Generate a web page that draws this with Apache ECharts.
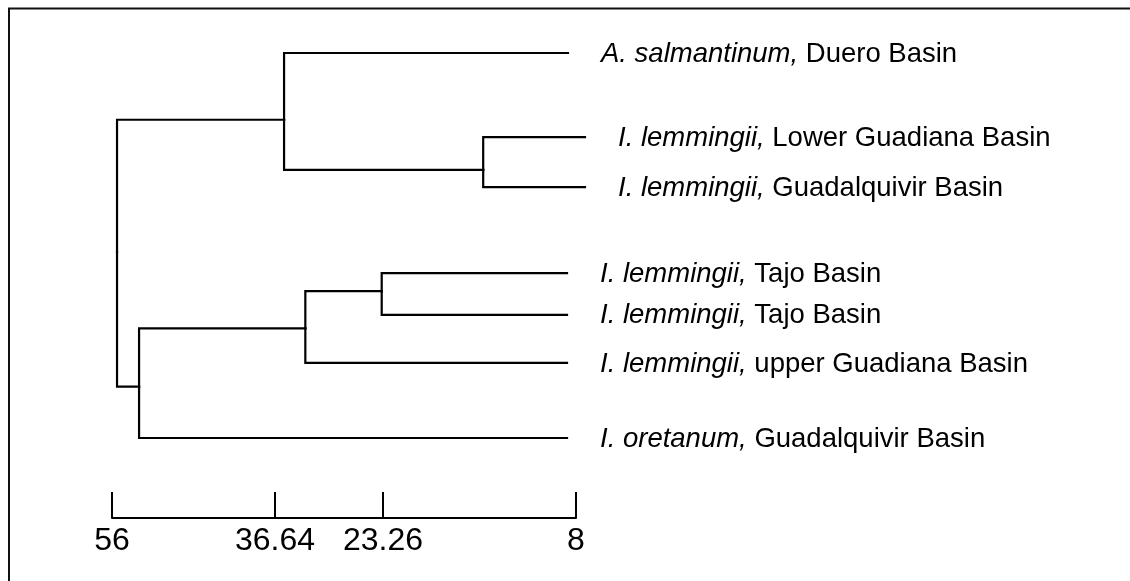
<!DOCTYPE html>
<html>
<head>
<meta charset="utf-8">
<script src="https://cdn.jsdelivr.net/npm/echarts@6/dist/echarts.min.js"></script>
<style>
html,body{margin:0;padding:0;background:#fff;}
#chart{width:1130px;height:581px;}
</style>
</head>
<body>
<div id="chart"></div>
<script>
// ---- Data ----
// Leaves: italic species part + plain basin part
var leafSpecies = ['A. salmantinum,', 'I. lemmingii,', 'I. lemmingii,', 'I. lemmingii,', 'I. lemmingii,', 'I. lemmingii,', 'I. oretanum,'];
var leafBasins  = ['Duero Basin', 'Lower Guadiana Basin', 'Guadalquivir Basin', 'Tajo Basin', 'Tajo Basin', 'upper Guadiana Basin', 'Guadalquivir Basin'];
// Node table: id, age (scale units, 56 = left end, 8 = right end), row (vertical position)
var nodeIds   = ['root', 'top', 'lg', 'bot', 'mid', 'tajo', 'L0', 'L1', 'L2', 'L3', 'L4', 'L5', 'L6'];
var nodeAges  = [55.48, 38.2, 17.6, 53.2, 36.0, 28.1, 8.83, 7.07, 7.07, 8.93, 8.93, 8.93, 8.93];
var nodeRows  = [3.1, 1.04, 1.82, 5.2, 4.29, 3.71, 0, 1.31, 2.09, 3.43, 4.08, 4.83, 6.0];
// Tree edges: [parent, child]
var edgeParents  = ['root', 'root', 'top', 'top', 'lg', 'lg', 'bot', 'bot', 'mid', 'mid', 'tajo', 'tajo'];
var edgeChildren = ['top', 'bot', 'L0', 'lg', 'L1', 'L2', 'mid', 'L6', 'tajo', 'L5', 'L3', 'L4'];
// Scale bar
var tickPositions = [56, 39.14, 27.97, 8];
var tickLabels    = ['56', '36.64', '23.26', '8'];

// ---- Build series data ----
function idx(id){ return nodeIds.indexOf(id); }
var edgeData = edgeParents.map(function(p, i){
  var a = idx(p), b = idx(edgeChildren[i]);
  return [nodeAges[a], nodeRows[a], nodeAges[b], nodeRows[b]];
});
var leafData = leafSpecies.map(function(s, i){
  var k = idx('L' + i);
  return { value: [nodeAges[k], nodeRows[k]], species: s, basin: leafBasins[i] };
});

var FONT = '"Liberation Sans", Arial, Helvetica, sans-serif';
var INK = '#000';

var chart = echarts.init(document.getElementById('chart'), null, {renderer: 'canvas'});
chart.setOption({
  backgroundColor: '#ffffff',
  animation: false,
  graphic: [{
    type: 'rect', silent: true,
    shape: { x: 9, y: 8.5, width: 1200, height: 700 },
    style: { fill: 'none', stroke: '#111', lineWidth: 2 }
  }],
  grid: [
    { left: 112, width: 464, top: 53, height: 385 },
    { left: 112, width: 464, top: 517, height: 1 }
  ],
  xAxis: [
    { gridIndex: 0, type: 'value', inverse: true, min: 8, max: 56, show: false },
    {
      gridIndex: 1, type: 'value', inverse: true, min: 8, max: 56, position: 'bottom',
      axisLine: { show: true, onZero: false, lineStyle: { color: INK, width: 2 } },
      axisTick: { show: true, inside: true, length: 26, customValues: tickPositions, lineStyle: { color: INK, width: 2 } },
      axisLabel: {
        show: true, customValues: tickPositions, margin: 7, fontSize: 32, color: INK, fontFamily: FONT,
        showMinLabel: true, showMaxLabel: true, hideOverlap: false,
        formatter: function(v){
          for (var i = 0; i < tickPositions.length; i++) {
            if (Math.abs(tickPositions[i] - v) < 1e-6) return tickLabels[i];
          }
          return '';
        }
      },
      splitLine: { show: false }
    }
  ],
  yAxis: [
    { gridIndex: 0, type: 'value', inverse: true, min: 0, max: 6, show: false },
    { gridIndex: 1, type: 'value', min: 0, max: 1, show: false }
  ],
  series: [
    {
      type: 'custom', xAxisIndex: 0, yAxisIndex: 0, clip: false, silent: true,
      encode: { x: [0, 2], y: [1, 3] },
      data: edgeData,
      renderItem: function(params, api){
        var p0 = api.coord([api.value(0), api.value(1)]);
        var p1 = api.coord([api.value(2), api.value(3)]);
        return {
          type: 'polyline',
          shape: { points: [[p0[0], p0[1]], [p0[0], p1[1]], [p1[0], p1[1]]] },
          style: { stroke: INK, lineWidth: 2.2, fill: 'none', lineJoin: 'miter', lineCap: 'square' }
        };
      }
    },
    {
      type: 'custom', xAxisIndex: 0, yAxisIndex: 0, clip: false, silent: true,
      encode: { x: 0, y: 1 },
      data: leafData,
      renderItem: function(params, api){
        var p = api.coord([api.value(0), api.value(1)]);
        var d = leafData[params.dataIndex];
        return {
          type: 'text',
          x: p[0] + 33, y: p[1] + 1,
          style: {
            text: '{i|' + d.species + '} {n|' + d.basin + '}',
            verticalAlign: 'middle', align: 'left',
            fontSize: 27.5, fontFamily: FONT, fill: INK,
            rich: {
              i: { fontStyle: 'italic', fontSize: 27.5, fontFamily: FONT, fill: INK, color: INK },
              n: { fontSize: 27.5, fontFamily: FONT, fill: INK, color: INK }
            }
          }
        };
      }
    }
  ]
});
</script>
</body>
</html>
